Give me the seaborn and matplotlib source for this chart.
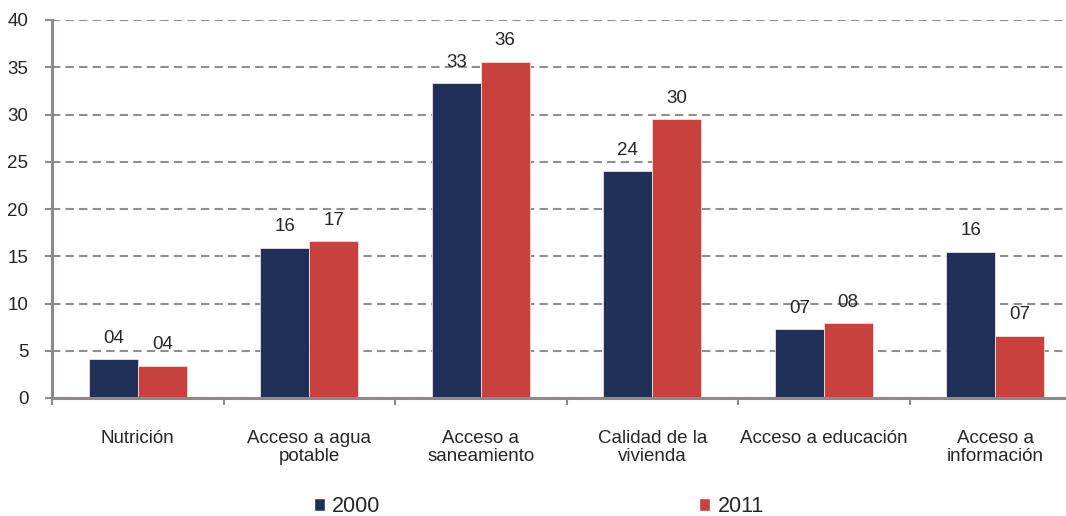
import seaborn as sns
import numpy as np
import pandas as pd
import matplotlib.pyplot as plt
from matplotlib.patches import Patch
from matplotlib.ticker import FixedLocator

# data
categories = ["Nutrición", "Acceso a agua\npotable", "Acceso a\nsaneamiento",
              "Calidad de la\nvivienda", "Acceso a educación", "Acceso a\ninformación"]
years = ["2000", "2011"]
vals_2000 = [4.1, 15.9, 33.3, 24.0, 7.3, 15.5]
vals_2011 = [3.4, 16.6, 35.6, 29.5, 7.9, 6.6]
labels_2000 = ["04", "16", "33", "24", "07", "16"]
labels_2011 = ["04", "17", "36", "30", "08", "07"]

navy = "#1F3158"
red = "#C8413D"
grey = "#8E8A8A"

df = pd.DataFrame({
    "cat": categories * 2,
    "year": [years[0]] * 6 + [years[1]] * 6,
    "val": vals_2000 + vals_2011,
})

sns.set_style("white")
plt.rcParams['font.family'] = ['Liberation Sans', 'DejaVu Sans']

fig = plt.figure(figsize=(10.66, 5.16), dpi=100)
ax = fig.add_axes([52/1066, 1-398/516, 1029/1066, 378/516])

sns.barplot(data=df, x="cat", y="val", hue="year", palette=[navy, red],
            width=0.57, ax=ax, legend=False, edgecolor="#f4dede", linewidth=0.6,
            saturation=1)

# value labels
for cont, labs in zip(ax.containers, [labels_2000, labels_2011]):
    ax.bar_label(cont, labels=labs, padding=9, fontsize=13.5, color="#262626")

ax.set_ylim(0, 40)
ax.set_xlim(-0.5, 5.5)
ax.set_yticks(np.arange(0, 41, 5))
ax.yaxis.grid(True, linestyle=(0, (4, 2.5)), color="#8F8F8F", linewidth=1.5)
ax.set_axisbelow(True)

for s in ["top", "right"]:
    ax.spines[s].set_visible(False)
for s in ["left", "bottom"]:
    ax.spines[s].set_color(grey)
    ax.spines[s].set_linewidth(2.2)

ax.set_xlabel("")
ax.set_ylabel("")
ax.tick_params(axis="y", length=5, width=1.5, color=grey, pad=12,
               labelsize=13.5, labelcolor="#262626", left=True)
ax.tick_params(axis="x", which="major", length=0, pad=23,
               labelsize=13.5, labelcolor="#262626")
ax.xaxis.set_minor_locator(FixedLocator(np.arange(-0.5, 6, 1)))
ax.tick_params(axis="x", which="minor", length=5, width=1.5, color=grey,
               bottom=True)
for t in ax.get_xticklabels():
    t.set_linespacing(1.1)

handles = [Patch(facecolor=navy, label="2000"), Patch(facecolor=red, label="2011")]
fig.legend(handles=handles, loc="center left", bbox_to_anchor=(314/1066, 0.018),
           ncol=2, frameon=False, fontsize=15.5, handlelength=0.5, handleheight=0.5,
           handletextpad=0.35, columnspacing=14.8, borderpad=0, borderaxespad=0)

fig.savefig("out.png", dpi=100)
